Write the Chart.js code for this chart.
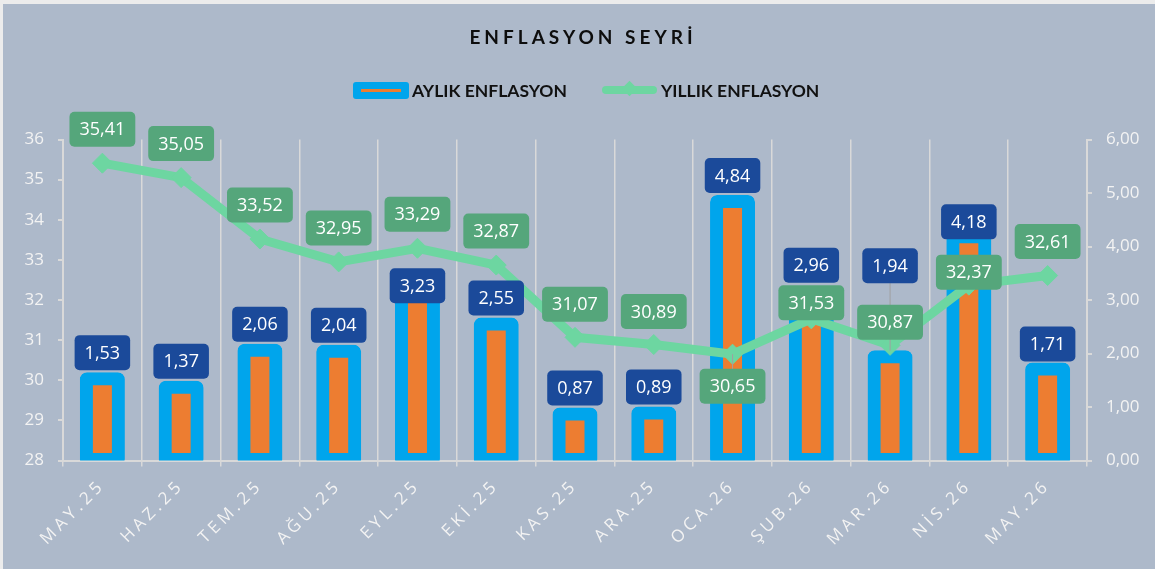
<!DOCTYPE html>
<html lang="tr">
<head>
<meta charset="utf-8">
<title>Enflasyon Seyri</title>
<script src="https://cdn.jsdelivr.net/npm/chart.js@4.4.1/dist/chart.umd.min.js"></script>
<style>
  html, body { margin: 0; padding: 0; background: #ececec; }
  #frame { position: absolute; left: 3px; top: 4px; width: 1152px; height: 565px; background: #adb9ca; overflow: hidden; }
  #chart { position: absolute; left: 0; top: 0; }
  .title { position: absolute; left: 0; width: 1160px; top: 21px; text-align: center;
           font: bold 19px Lato, sans-serif; letter-spacing: 4px; color: #0d0d0d; }
  .legend { position: absolute; left: 350px; top: 75px; height: 22px; display: flex; align-items: center;
            font: bold 17.5px Lato, sans-serif; color: #111; }
  .sw-bar { width: 56px; height: 17px; background: #00a5ec; border-radius: 3px; position: relative; margin-right: 3px; }
  .sw-bar::after { content: ''; position: absolute; left: 8px; right: 8px; top: 7px; height: 3px; background: #ed7d31; }
  .sw-line { width: 55px; height: 8px; background: #6dd6a1; border-radius: 4px; position: relative; margin: 0 4px 0 35px; }
  .sw-line::after { content: ''; position: absolute; left: 22px; top: -3px; width: 11px; height: 11px; background: #6dd6a1; transform: rotate(45deg); }
</style>
</head>
<body>
<div id="frame">
  <canvas id="chart" width="1152" height="565"></canvas>
  <div class="title">ENFLASYON SEYRİ</div>
  <div class="legend">
    <span class="sw-bar"></span><span>AYLIK ENFLASYON</span>
    <span class="sw-line"></span><span>YILLIK ENFLASYON</span>
  </div>
</div>
<script>
const months = ['MAY.25', 'HAZ.25', 'TEM.25', 'AĞU.25', 'EYL.25', 'EKİ.25', 'KAS.25',
                'ARA.25', 'OCA.26', 'ŞUB.26', 'MAR.26', 'NİS.26', 'MAY.26'];
const monthlyRate = [1.53, 1.37, 2.06, 2.04, 3.23, 2.55, 0.87, 0.89, 4.84, 2.96, 1.94, 4.18, 1.71];
const yearlyRate = [35.41, 35.05, 33.52, 32.95, 33.29, 32.87, 31.07, 30.89, 30.65, 31.53, 30.87, 32.37, 32.61];
const yearlyTicks = [28, 29, 30, 31, 32, 33, 34, 35, 36];
const monthlyTicks = [0, 1, 2, 3, 4, 5, 6];

// label placement (px from the value), as dragged in the original
const monthlyShift = [-26, -26, -26, -26, -2, -26, -26, -26, -26, -37, -91, -15, -25];
const yearlyShift = [-34, -34, -34, -34, -34, -34, -33, -33, 32, -16, -23, -13, -34];
const monthlyLeader = [10];
const yearlyLeader = [8];

const fmt = v => v.toFixed(2).replace('.', ',');
const axisGray = '#d9d9d9', tickText = '#f3f3f3';

function labelBox(ctx, x, y, text, fill) {
  const w = ctx.measureText(text).width + 20, h = 35, r = 5;
  const l = x - w / 2, t = y - h / 2;
  ctx.beginPath();
  ctx.moveTo(l + r, t);
  ctx.arcTo(l + w, t, l + w, t + h, r);
  ctx.arcTo(l + w, t + h, l, t + h, r);
  ctx.arcTo(l, t + h, l, t, r);
  ctx.arcTo(l, t, l + w, t, r);
  ctx.closePath();
  ctx.fillStyle = fill;
  ctx.fill();
  ctx.fillStyle = '#ffffff';
  ctx.fillText(text, x, y + 1);
}

const labelPlugin = {
  id: 'labelBoxes',
  afterDatasetsDraw(chart) {
    const ctx = chart.ctx;
    const bars = chart.getDatasetMeta(0).data;
    const pts = chart.getDatasetMeta(1).data;
    ctx.save();
    ctx.font = '18px "Open Sans"';
    ctx.textAlign = 'center';
    ctx.textBaseline = 'middle';
    ctx.strokeStyle = '#a0a0a0';
    ctx.lineWidth = 1;
    monthlyLeader.forEach(i => {
      const b = bars[i];
      ctx.beginPath();
      ctx.moveTo(b.x, b.y + monthlyShift[i] + 17);
      ctx.lineTo(b.x, b.y - 6);
      ctx.stroke();
    });
    yearlyLeader.forEach(i => {
      const p = pts[i];
      ctx.beginPath();
      ctx.moveTo(p.x, p.y + yearlyShift[i] - 17);
      ctx.lineTo(p.x, p.y);
      ctx.stroke();
    });
    bars.forEach((b, i) => labelBox(ctx, b.x, b.y + monthlyShift[i], fmt(monthlyRate[i]), '#1b4a9a'));
    pts.forEach((p, i) => labelBox(ctx, p.x, p.y + yearlyShift[i], fmt(yearlyRate[i]), '#55a67b'));
    ctx.restore();
    // x tick labels are drawn after this hook (ticks z:1) and are letter-spaced
    ctx.letterSpacing = '4px';
  },
  afterDraw(chart) {
    chart.ctx.letterSpacing = '0px';
  }
};

new Chart(document.getElementById('chart'), {
  data: {
    labels: months,
    datasets: [
      {
        type: 'bar', label: 'AYLIK ENFLASYON', data: monthlyRate, yAxisID: 'y1',
        backgroundColor: '#ed7d31', borderColor: '#00a5ec', borderWidth: 13,
        borderSkipped: false, inflateAmount: 6.5, borderRadius: 7, barThickness: 32,
        clip: { left: false, top: false, right: false, bottom: 0 }, order: 2
      },
      {
        type: 'line', label: 'YILLIK ENFLASYON', data: yearlyRate, yAxisID: 'y',
        borderColor: '#6dd6a1', backgroundColor: '#6dd6a1', borderWidth: 9, tension: 0,
        pointStyle: 'rectRot', pointRadius: 10, pointBackgroundColor: '#6dd6a1',
        pointBorderColor: '#6dd6a1', pointBorderWidth: 1, order: 1
      }
    ]
  },
  options: {
    responsive: false, animation: false,
    layout: { padding: { top: 135.5, left: 0, right: 0, bottom: 0 } },
    plugins: { legend: { display: false }, tooltip: { enabled: false } },
    scales: {
      x: {
        offset: true,
        grid: { color: axisGray, lineWidth: 1.5, offset: true, tickLength: 6 },
        border: { color: axisGray, width: 2 },
        ticks: { color: tickText, font: { family: 'Open Sans', size: 17 }, minRotation: 45, maxRotation: 45,
                 autoSkip: false, padding: 9, z: 1 },
        afterFit(s) { s.height = 108.5; }
      },
      y: {
        position: 'left', min: yearlyTicks[0], max: yearlyTicks[yearlyTicks.length - 1],
        ticks: { stepSize: 1, color: tickText, font: { family: 'Open Sans', size: 17 }, padding: 14 },
        grid: { drawOnChartArea: false, tickLength: 5, color: axisGray, lineWidth: 2 },
        border: { color: axisGray, width: 2 },
        afterFit(s) { s.width = 60; }
      },
      y1: {
        position: 'right', min: monthlyTicks[0], max: monthlyTicks[monthlyTicks.length - 1],
        ticks: { stepSize: 1, color: tickText, font: { family: 'Open Sans', size: 17 }, padding: 14,
                 callback: v => fmt(v) },
        grid: { drawOnChartArea: false, tickLength: 5, color: axisGray, lineWidth: 2 },
        border: { color: axisGray, width: 2 },
        afterFit(s) { s.width = 68; }
      }
    }
  },
  plugins: [labelPlugin]
});
</script>
</body>
</html>
